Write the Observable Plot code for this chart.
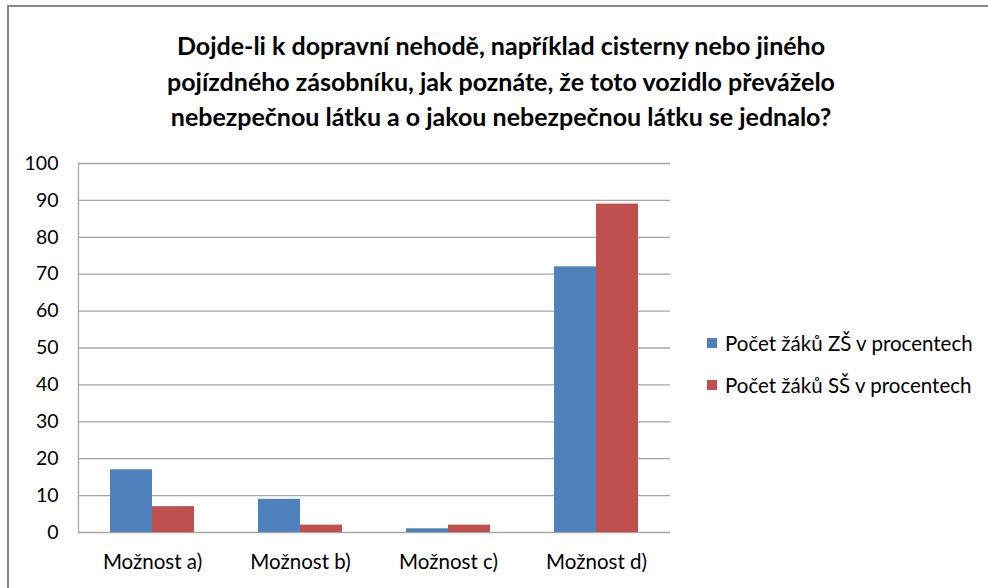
<!DOCTYPE html>
<html>
<head>
<meta charset="utf-8">
<script src="https://cdn.jsdelivr.net/npm/d3@7"></script>
<script src="https://cdn.jsdelivr.net/npm/@observablehq/plot@0.6"></script>
<style>
  html, body { margin: 0; padding: 0; background: #fff; }
  #wrap { position: relative; width: 988px; height: 588px; overflow: hidden; background: #fff;
    font-family: Lato, "Open Sans", sans-serif; }
  #frame { position: absolute; left: 7px; top: 5px; width: 1100px; height: 700px;
    border-left: 2px solid #888; border-top: 2px solid #888; box-sizing: border-box; }
  #title { position: absolute; left: 1px; top: 0; width: 1000px; height: 140px; text-align: center;
    font-weight: bold; font-size: 25px; line-height: 35.5px; color: #000; padding-top: 28px; box-sizing: border-box; }
  #chart { position: absolute; left: 0; top: 140px; }
  #legend { position: absolute; left: 707px; top: 330px; font-size: 20.5px; color: #000; }
  .item { display: flex; align-items: center; height: 26px; margin-bottom: 16px; white-space: nowrap; }
  .sw { width: 10px; height: 10px; margin-right: 8px; }
</style>
</head>
<body>
<div id="wrap">
  <div id="frame"></div>
  <div id="title">Dojde-li k dopravní nehodě, například cisterny nebo jiného<br>pojízdného zásobníku, jak poznáte, že toto vozidlo převáželo<br>nebezpečnou látku a o jakou nebezpečnou látku se jednalo?</div>
  <div id="chart"></div>
  <div id="legend"></div>
</div>
<script>
const categories = ["Možnost a)", "Možnost b)", "Možnost c)", "Možnost d)"];
const seriesNames = ["Počet žáků ZŠ v procentech", "Počet žáků SŠ v procentech"];
const zsValues = [17, 9, 1, 72];
const ssValues = [7, 2, 2, 89];
const seriesColors = ["#4F81BD", "#C0504D"];
const yTicks = [0, 10, 20, 30, 40, 50, 60, 70, 80, 90, 100];

const data = [];
categories.forEach((c, i) => {
  data.push({category: c, series: seriesNames[0], value: zsValues[i]});
  data.push({category: c, series: seriesNames[1], value: ssValues[i]});
});

const fontFam = 'Lato, "Open Sans", sans-serif';

const plot = Plot.plot({
  width: 988,
  height: 448,
  marginLeft: 77,
  marginRight: 317,
  marginTop: 23,
  marginBottom: 56,
  style: {fontFamily: fontFam, fontSize: "20px", color: "#000", background: "transparent"},
  fx: {domain: categories, padding: 0, label: null, axis: null},
  x: {domain: seriesNames, paddingInner: 0, paddingOuter: 0.75, axis: null},
  y: {domain: [0, 100], ticks: yTicks, label: null},
  color: {domain: seriesNames, range: seriesColors},
  marks: [
    Plot.ruleY(yTicks, {y: d => d, stroke: "#a6a6a6", strokeWidth: 1.3}),
    Plot.barY(data, {fx: "category", x: "series", y: "value", fill: "series", inset: 0}),
    Plot.frame({anchor: "left", facetAnchor: "left", stroke: "#a6a6a6", strokeWidth: 1.3}),
    Plot.axisY({ticks: yTicks, tickSize: 0, tickPadding: 20, label: null, fontSize: 19.5, fill: "#000"}),
    Plot.axisFx({anchor: "bottom", tickSize: 0, tickPadding: 22, label: null, fontSize: 20.5, fill: "#000"})
  ]
});
document.getElementById("chart").appendChild(plot);

const legend = document.getElementById("legend");
seriesNames.forEach((s, i) => {
  const it = document.createElement("div");
  it.className = "item";
  const sw = document.createElement("div");
  sw.className = "sw";
  sw.style.background = seriesColors[i];
  const tx = document.createElement("span");
  tx.textContent = s;
  it.appendChild(sw);
  it.appendChild(tx);
  legend.appendChild(it);
});
</script>
</body>
</html>
